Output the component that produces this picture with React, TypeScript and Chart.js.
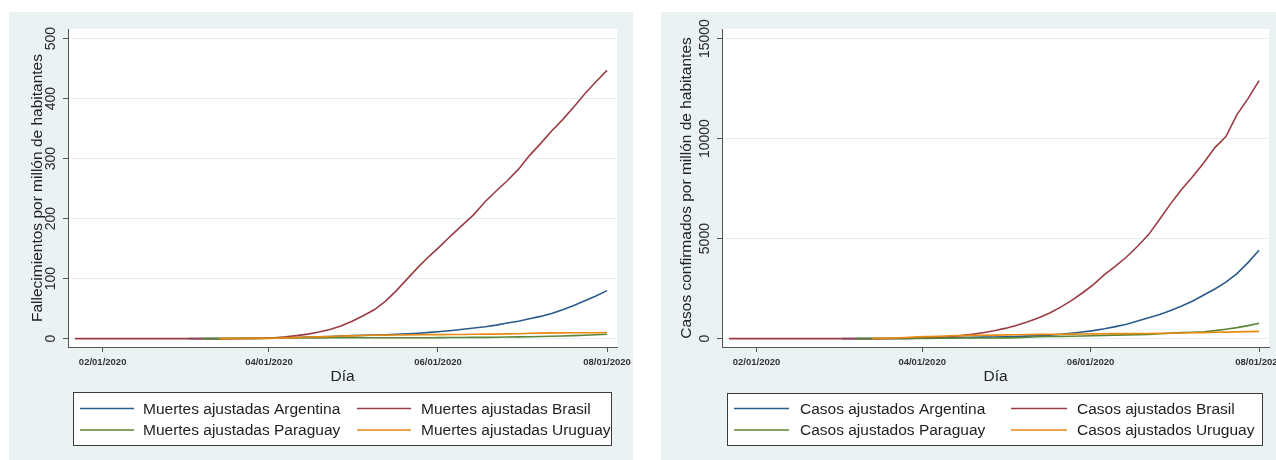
import React, { useEffect, useRef } from 'react';
import { Chart, registerables } from 'chart.js';

Chart.register(...registerables);

// x values: day of year 2020 (Jan 1 = 0)
const days = [21, 62, 67, 73, 77, 81, 85, 89, 93, 97, 101, 105, 109, 113, 117, 121, 125, 129, 133, 137, 141, 145, 149, 153, 157, 161, 165, 169, 173, 177, 181, 185, 189, 193, 197, 201, 205, 209, 213];

const dateTicks = [31, 91, 152, 213];
const dateLabels = ['02/01/2020', '04/01/2020', '06/01/2020', '08/01/2020'];
const deathTicks = [0, 100, 200, 300, 400, 500];
const caseTicks = [0, 5000, 10000, 15000];

const countries = ['Argentina', 'Brasil', 'Paraguay', 'Uruguay'];
const colors = ['#2b5b8a', '#9a3c44', '#5a8535', '#ea8a10'];

// Muertes ajustadas por millón
const deathsArgentina = [null, 0, 0, 0, 0.05, 0.1, 0.3, 0.5, 0.8, 1.3, 1.9, 2.4, 3, 3.6, 4.3, 4.9, 5.4, 6, 6.5, 7.2, 8, 9, 10.3, 11.8, 13.6, 15.5, 17.6, 19.8, 22.5, 26, 29, 33, 37, 42, 48, 55, 63, 71, 80];
const deathsBrasil = [0, 0, 0, 0, 0, 0.1, 0.3, 0.7, 1.5, 3, 5, 7.5, 11, 15, 21, 29, 38, 48, 62, 80, 100, 120, 138, 155, 173, 190, 207, 228, 246, 263, 282, 305, 325, 346, 365, 386, 408, 428, 447];
const deathsParaguay = [null, null, 0, 0, 0.1, 0.3, 0.4, 0.4, 0.5, 0.8, 1.1, 1.1, 1.2, 1.3, 1.3, 1.4, 1.4, 1.4, 1.5, 1.5, 1.5, 1.5, 1.5, 1.6, 1.8, 1.9, 2, 2.1, 2.3, 2.6, 2.9, 3.2, 3.5, 3.9, 4.3, 4.9, 5.6, 6.4, 7.2];
const deathsUruguay = [null, null, null, 0, 0, 0, 0.3, 0.3, 0.6, 1.2, 1.7, 2.6, 2.9, 3.5, 4.3, 4.6, 5.2, 5.5, 5.8, 6.1, 6.1, 6.3, 6.6, 6.6, 6.9, 6.9, 7.2, 7.5, 7.5, 7.8, 8.1, 8.9, 9.2, 9.5, 9.5, 9.8, 9.8, 9.8, 10.1];

// Casos ajustados por millón
const casesArgentina = [null, 0, 0.1, 0.7, 2, 6, 12, 18, 26, 35, 45, 55, 65, 73, 82, 95, 108, 125, 145, 175, 215, 270, 330, 400, 490, 600, 720, 880, 1040, 1210, 1400, 1630, 1880, 2180, 2480, 2820, 3250, 3800, 4420];
const casesBrasil = [0, 0, 0, 0, 1, 3, 8, 18, 36, 60, 95, 150, 210, 295, 390, 510, 660, 830, 1030, 1270, 1560, 1900, 2280, 2700, 3200, 3620, 4080, 4620, 5200, 5970, 6750, 7470, 8100, 8790, 9550, 10100, 11200, 12000, 12900];
const casesParaguay = [null, null, 0.1, 0.8, 2, 3, 7, 9, 10, 16, 22, 28, 30, 31, 32, 34, 45, 70, 95, 105, 112, 118, 128, 142, 160, 175, 185, 195, 210, 240, 275, 300, 320, 345, 400, 470, 550, 650, 770];
const casesUruguay = [null, null, null, 1, 10, 30, 55, 85, 105, 120, 140, 150, 160, 165, 175, 185, 195, 205, 212, 215, 220, 225, 232, 237, 245, 248, 250, 252, 255, 260, 270, 280, 290, 300, 315, 325, 335, 350, 363];

const FONT = '"Liberation Sans", Arial, Helvetica, sans-serif';
Chart.defaults.font.family = FONT;

const toPoints = (vals: (number | null)[]) =>
  days.map((d, i) => ({ x: d, y: vals[i] })).filter((p) => p.y !== null);

const bgPlugin = {
  id: 'panelBg',
  beforeDraw(chart: any) {
    const { ctx, width, height, chartArea } = chart;
    ctx.save();
    ctx.fillStyle = '#eaf2f3';
    ctx.fillRect(0, 0, width, height);
    ctx.fillStyle = '#ffffff';
    ctx.fillRect(chartArea.left, chartArea.top, chartArea.right - chartArea.left, chartArea.bottom - chartArea.top);
    ctx.restore();
  },
};

const yTickLabelsPlugin = {
  id: 'yTickLabels',
  afterDraw(chart: any, _args: any, opts: any) {
    const s = chart.scales.y;
    const ctx = chart.ctx;
    ctx.save();
    ctx.font = `${opts.size}px ${FONT}`;
    ctx.fillStyle = opts.color;
    ctx.textAlign = 'center';
    ctx.textBaseline = 'middle';
    s.ticks.forEach((t: any) => {
      const y = s.getPixelForValue(t.value);
      ctx.save();
      ctx.translate(opts.x, y);
      ctx.rotate(-Math.PI / 2);
      ctx.fillText(String(t.value), 0, 0);
      ctx.restore();
    });
    ctx.restore();
  },
};

const legendPlugin = {
  id: 'boxLegend',
  afterDraw(chart: any, _args: any, opts: any) {
    const ctx = chart.ctx;
    const [x1, y1, x2, y2] = opts.box;
    ctx.save();
    ctx.fillStyle = '#ffffff';
    ctx.fillRect(x1, y1, x2 - x1, y2 - y1);
    ctx.strokeStyle = '#3c3c3c';
    ctx.lineWidth = 1;
    ctx.strokeRect(x1 + 0.5, y1 + 0.5, x2 - x1 - 1, y2 - y1 - 1);
    ctx.font = `15.5px ${FONT}`;
    ctx.textBaseline = 'middle';
    ctx.textAlign = 'left';
    chart.data.datasets.forEach((ds: any, i: number) => {
      const row = Math.floor(i / 2);
      const col = i % 2;
      const c = opts.cols[col];
      const y = opts.rows[row];
      ctx.strokeStyle = ds.borderColor;
      ctx.lineWidth = 1.6;
      ctx.beginPath();
      ctx.moveTo(c[0], y);
      ctx.lineTo(c[1], y);
      ctx.stroke();
      ctx.fillStyle = '#1e1e1e';
      ctx.fillText(ds.label, c[2], y + 1);
    });
    ctx.restore();
  },
};

function makeConfig(p: any) {
  return {
    type: 'line',
    data: {
      datasets: countries.map((c, i) => ({
        label: `${p.prefix} ${c}`,
        data: toPoints(p.series[i]),
        borderColor: colors[i],
        backgroundColor: colors[i],
        borderWidth: 1.6,
        pointRadius: 0,
        tension: 0,
        fill: false,
        order: 4 - i,
      })),
    },
    options: {
      responsive: false,
      animation: false,
      events: [],
      layout: { padding: { left: p.padLeft, right: p.padRight, top: 17, bottom: 73.7 } },
      plugins: {
        legend: { display: false },
        tooltip: { enabled: false },
        yTickLabels: { x: p.tickX, size: 14, color: '#2a2a2a' },
        boxLegend: { box: p.legendBox, rows: [396.5, 418], cols: p.legendCols },
      },
      scales: {
        x: {
          type: 'linear',
          min: 18.5,
          max: 216.6,
          afterBuildTicks: (s: any) => {
            s.ticks = dateTicks.map((v) => ({ value: v }));
          },
          afterFit: (s: any) => {
            s.height = 39.3;
            s.paddingLeft = 0;
            s.paddingRight = 0;
          },
          ticks: {
            autoSkip: false,
            maxRotation: 0,
            minRotation: 0,
            padding: 5,
            color: '#333333',
            font: { size: 9.5, weight: 'bold' },
            callback: (_v: any, i: number) => dateLabels[i],
          },
          grid: { drawOnChartArea: false, drawTicks: true, tickLength: 5, tickColor: '#555555', tickWidth: 1 },
          border: { color: '#555555', width: 1 },
          title: { display: true, text: 'Día', color: '#222222', font: { size: 15.5 }, padding: 0 },
        },
        y: {
          type: 'linear',
          min: p.yMin,
          max: p.yMax,
          afterBuildTicks: (s: any) => {
            s.ticks = p.yTicks.map((v: number) => ({ value: v }));
          },
          afterFit: (s: any) => {
            s.width = p.yWidth;
            s.paddingTop = 0;
            s.paddingBottom = 0;
          },
          ticks: { display: false },
          grid: { color: '#e4eef0', lineWidth: 1, drawTicks: true, tickLength: 5, tickColor: '#555555', tickWidth: 1 },
          border: { color: '#555555', width: 1 },
          title: { display: true, text: p.yTitle, color: '#222222', font: { size: 15.5 }, padding: 0 },
        },
      },
    },
    plugins: [bgPlugin, yTickLabelsPlugin, legendPlugin],
  };
}

function Panel(props: { cfg: any; left: number; top: number; width: number; height: number }) {
  const ref = useRef<HTMLCanvasElement | null>(null);
  useEffect(() => {
    const chart = new Chart(ref.current as HTMLCanvasElement, makeConfig(props.cfg) as any);
    return () => chart.destroy();
  }, []);
  return (
    <canvas
      ref={ref}
      width={props.width}
      height={props.height}
      style={{ position: 'absolute', left: props.left, top: props.top, width: props.width, height: props.height }}
    />
  );
}

const leftCfg = {
  prefix: 'Muertes ajustadas',
  series: [deathsArgentina, deathsBrasil, deathsParaguay, deathsUruguay],
  yTitle: 'Fallecimientos por millón de habitantes',
  yMin: -14,
  yMax: 516,
  yTicks: deathTicks,
  padLeft: 19.2,
  yWidth: 39.8,
  padRight: 16,
  tickX: 42.5,
  legendBox: [64, 380, 603, 434],
  legendCols: [[71, 125, 134], [348, 402, 412]],
};

const rightCfg = {
  prefix: 'Casos ajustados',
  series: [casesArgentina, casesBrasil, casesParaguay, casesUruguay],
  yTitle: 'Casos confirmados por millón de habitantes',
  yMin: -420,
  yMax: 15480,
  yTicks: caseTicks,
  padLeft: 16.7,
  yWidth: 44.3,
  padRight: 7,
  tickX: 44,
  legendBox: [66, 381, 602, 434],
  legendCols: [[73, 128, 139], [350, 406, 416]],
};

export default function App() {
  return (
    <div style={{ position: 'absolute', left: 0, top: 0, width: 1276, height: 460, overflow: 'hidden', background: '#ffffff' }}>
      <Panel cfg={leftCfg} left={9} top={12} width={624} height={448} />
      <Panel cfg={rightCfg} left={661} top={12} width={615} height={448} />
    </div>
  );
}
